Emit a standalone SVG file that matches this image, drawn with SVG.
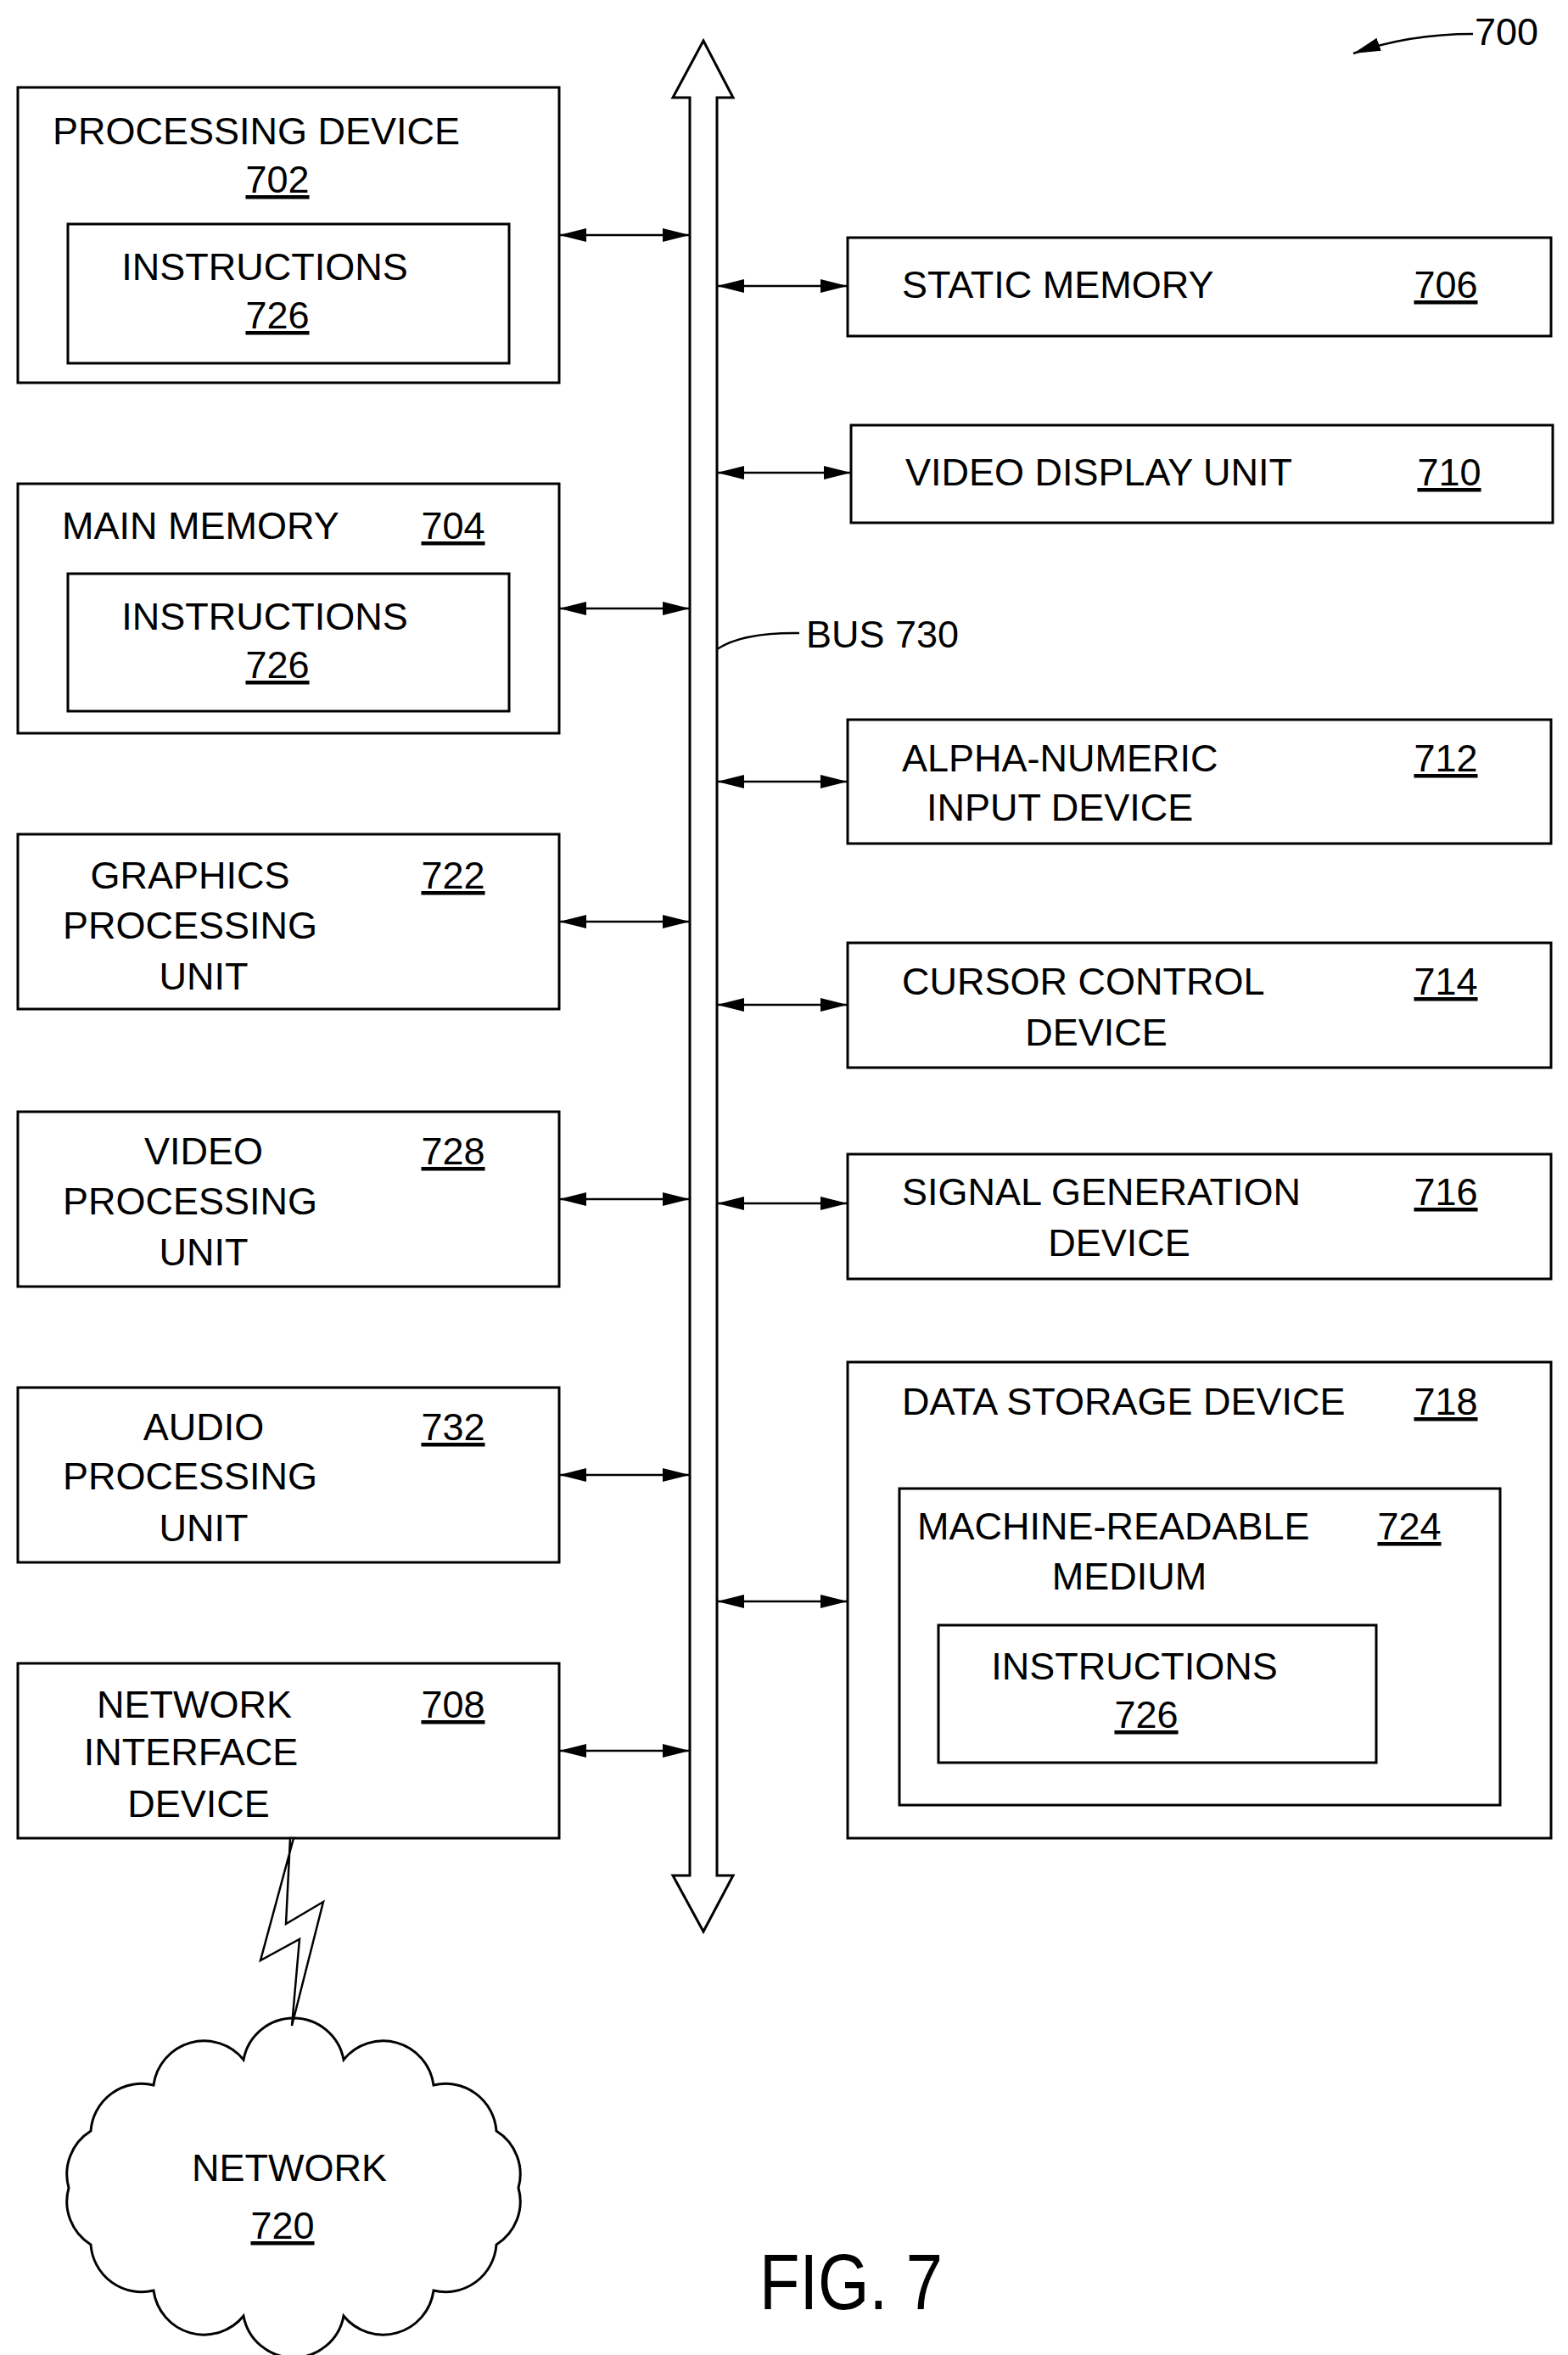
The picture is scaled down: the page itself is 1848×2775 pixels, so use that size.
<svg xmlns="http://www.w3.org/2000/svg" width="1848" height="2775" viewBox="0 0 1848 2775">
<style>
rect{fill:none;stroke:#000;stroke-width:3}
text{font-family:"Liberation Sans",Arial,sans-serif;font-size:45px;fill:#000}
.c{text-anchor:middle}
.u{text-decoration:underline}
.ln{stroke:#000;stroke-width:2.5;fill:none}
</style>
<defs>
<marker id="ah" markerUnits="userSpaceOnUse" markerWidth="32" markerHeight="16" refX="32" refY="8" orient="auto-start-reverse"><path d="M0,0 L32,8 L0,16 Z" fill="#000"/></marker>
</defs>
<rect x="0" y="0" width="1848" height="2775" style="fill:#fff;stroke:none"/>
<g id="bus"><path d="M829,48 L864,115 L845,115 L845,2210 L864,2210 L829,2276 L793,2210 L813,2210 L813,115 L793,115 Z" fill="#fff" stroke="#000" stroke-width="3"/>
<path class="ln" d="M845,765 Q875,745 942,746"/><text x="950" y="763">BUS 730</text></g>
<g id="ref700"><text x="1738" y="53">700</text><path class="ln" d="M1736,40 Q1660,40 1595,63" marker-end="url(#ah)"/></g>
<g id="n702"><rect x="21" y="103" width="638" height="348"/><rect x="80" y="264" width="520" height="164"/>
<text class="c" x="302" y="170">PROCESSING DEVICE</text><text class="c u" x="327" y="227">702</text>
<text class="c" x="312" y="330">INSTRUCTIONS</text><text class="c u" x="327" y="387">726</text></g>
<g id="n704"><rect x="21" y="570" width="638" height="294"/><rect x="80" y="676" width="520" height="162"/>
<text x="73" y="635">MAIN MEMORY</text><text class="c u" x="534" y="635">704</text>
<text class="c" x="312" y="742">INSTRUCTIONS</text><text class="c u" x="327" y="799">726</text></g>
<g id="n722"><rect x="21" y="983" width="638" height="206"/>
<text class="c" x="224" y="1047">GRAPHICS</text><text class="c" x="224" y="1106">PROCESSING</text><text class="c" x="240" y="1166">UNIT</text><text class="c u" x="534" y="1047">722</text></g>
<g id="n728"><rect x="21" y="1310" width="638" height="206"/>
<text class="c" x="240" y="1372">VIDEO</text><text class="c" x="224" y="1431">PROCESSING</text><text class="c" x="240" y="1491">UNIT</text><text class="c u" x="534" y="1372">728</text></g>
<g id="n732"><rect x="21" y="1635" width="638" height="206"/>
<text class="c" x="240" y="1697">AUDIO</text><text class="c" x="224" y="1755">PROCESSING</text><text class="c" x="240" y="1816">UNIT</text><text class="c u" x="534" y="1697">732</text></g>
<g id="n708"><rect x="21" y="1960" width="638" height="206"/>
<text class="c" x="229" y="2024">NETWORK</text><text class="c" x="225" y="2080">INTERFACE</text><text class="c" x="234" y="2141">DEVICE</text><text class="c u" x="534" y="2024">708</text></g>
<g id="n706"><rect x="999" y="280" width="829" height="116"/><text x="1063" y="351">STATIC MEMORY</text><text class="c u" x="1704" y="351">706</text></g>
<g id="n710"><rect x="1003" y="501" width="827" height="115"/><text x="1067" y="572">VIDEO DISPLAY UNIT</text><text class="c u" x="1708" y="572">710</text></g>
<g id="n712"><rect x="999" y="848" width="829" height="146"/><text x="1063" y="909">ALPHA-NUMERIC</text><text x="1092" y="967">INPUT DEVICE</text><text class="c u" x="1704" y="909">712</text></g>
<g id="n714"><rect x="999" y="1111" width="829" height="147"/><text x="1063" y="1172">CURSOR CONTROL</text><text class="c" x="1292" y="1232">DEVICE</text><text class="c u" x="1704" y="1172">714</text></g>
<g id="n716"><rect x="999" y="1360" width="829" height="147"/><text x="1063" y="1420">SIGNAL GENERATION</text><text class="c" x="1319" y="1480">DEVICE</text><text class="c u" x="1704" y="1420">716</text></g>
<g id="n718"><rect x="999" y="1605" width="829" height="561"/><text x="1063" y="1667">DATA STORAGE DEVICE</text><text class="c u" x="1704" y="1667">718</text>
<rect x="1060" y="1754" width="708" height="373"/><text x="1081" y="1814">MACHINE-READABLE</text><text class="c" x="1331" y="1873">MEDIUM</text><text class="c u" x="1661" y="1814">724</text>
<rect x="1106" y="1915" width="516" height="162"/><text class="c" x="1337" y="1979">INSTRUCTIONS</text><text class="c u" x="1351" y="2036">726</text></g>
<g id="n720"><path fill="#fff" stroke="#000" stroke-width="3" d="M611,2578 A60,60 0 0 1 585,2645 A60,60 0 0 1 511,2699 A60,60 0 0 1 405,2729 A60,60 0 0 1 287,2729 A60,60 0 0 1 181,2699 A60,60 0 0 1 107,2645 A60,60 0 0 1 81,2578 A60,60 0 0 1 107,2511 A60,60 0 0 1 181,2457 A60,60 0 0 1 287,2427 A60,60 0 0 1 405,2427 A60,60 0 0 1 511,2457 A60,60 0 0 1 585,2511 A60,60 0 0 1 611,2578 Z"/>
<text class="c" x="341" y="2570">NETWORK</text><text class="c u" x="333" y="2638">720</text></g>
<g id="connectors">
<line class="ln" x1="659" y1="277" x2="813" y2="277" marker-start="url(#ah)" marker-end="url(#ah)"/>
<line class="ln" x1="659" y1="717" x2="813" y2="717" marker-start="url(#ah)" marker-end="url(#ah)"/>
<line class="ln" x1="659" y1="1086" x2="813" y2="1086" marker-start="url(#ah)" marker-end="url(#ah)"/>
<line class="ln" x1="659" y1="1413" x2="813" y2="1413" marker-start="url(#ah)" marker-end="url(#ah)"/>
<line class="ln" x1="659" y1="1738" x2="813" y2="1738" marker-start="url(#ah)" marker-end="url(#ah)"/>
<line class="ln" x1="659" y1="2063" x2="813" y2="2063" marker-start="url(#ah)" marker-end="url(#ah)"/>
<line class="ln" x1="845" y1="337" x2="999" y2="337" marker-start="url(#ah)" marker-end="url(#ah)"/>
<line class="ln" x1="845" y1="557" x2="1003" y2="557" marker-start="url(#ah)" marker-end="url(#ah)"/>
<line class="ln" x1="845" y1="921" x2="999" y2="921" marker-start="url(#ah)" marker-end="url(#ah)"/>
<line class="ln" x1="845" y1="1184" x2="999" y2="1184" marker-start="url(#ah)" marker-end="url(#ah)"/>
<line class="ln" x1="845" y1="1418" x2="999" y2="1418" marker-start="url(#ah)" marker-end="url(#ah)"/>
<line class="ln" x1="845" y1="1887" x2="999" y2="1887" marker-start="url(#ah)" marker-end="url(#ah)"/>
<path d="M342,2166 L337,2267 L381,2241 L344,2387 L353,2285 L307,2310 L346,2166 Z" fill="#fff" stroke="#000" stroke-width="2.5"/>
</g>
<text x="1003" y="2721" class="c" style="font-size:92px" textLength="216" lengthAdjust="spacingAndGlyphs">FIG. 7</text>
</svg>
